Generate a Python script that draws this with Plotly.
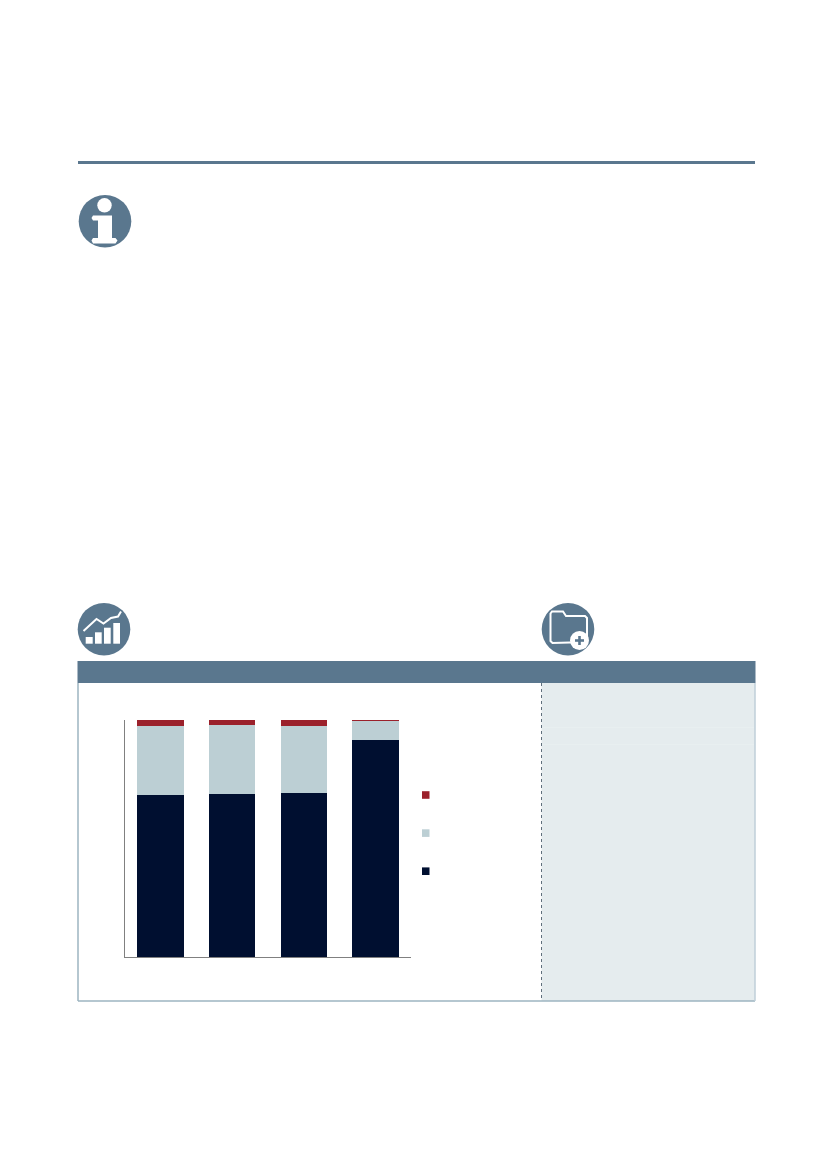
import plotly.graph_objects as go

W, H = 827, 1169

# the reference shows no labels, so these only identify the bars
categories = ["A", "B", "C", "D"]
dark_values = [68.4, 68.9, 69.4, 91.7]
light_values = [28.9, 29.0, 28.2, 7.9]
red_values = [2.7, 2.1, 2.4, 0.4]

STEEL = "#5A778E"
FRAME = "#9DB4C0"
PANEL = "#E5ECEE"
NAVY = "#000F30"
LIGHT = "#BCCFD4"
RED = "#9B212B"


def px_x(x):
    return x / W


def px_y(y):
    return 1 - y / H


def rect(x0, y0, x1, y1, color):
    return dict(type="rect", xref="paper", yref="paper", layer="below",
                x0=px_x(x0), x1=px_x(x1), y0=px_y(y0), y1=px_y(y1),
                fillcolor=color, line_width=0)


def line(x0, y0, x1, y1, color, width=1, dash="solid"):
    return dict(type="line", xref="paper", yref="paper", layer="below",
                x0=px_x(x0), x1=px_x(x1), y0=px_y(y0), y1=px_y(y1),
                line=dict(color=color, width=width, dash=dash))


def circle(cx, cy, r, color):
    return dict(type="circle", xref="paper", yref="paper", layer="below",
                x0=px_x(cx - r), x1=px_x(cx + r), y0=px_y(cy - r), y1=px_y(cy + r),
                fillcolor=color, line_width=0)


def poly(points, fill=None, stroke=None, width=0, closed=True):
    d = "M" + " L".join(f"{px_x(x):.5f},{px_y(y):.5f}" for x, y in points)
    if closed:
        d += " Z"
    return dict(type="path", xref="paper", yref="paper", layer="below", path=d,
                fillcolor=fill if fill else "rgba(0,0,0,0)",
                line=dict(color=stroke if stroke else "rgba(0,0,0,0)", width=width))


shapes = [
    # top rule
    rect(78, 161, 755, 164, STEEL),
    # panel frame and right column
    rect(541.5, 683, 755, 1001, PANEL),
    line(78, 683, 78, 1001, FRAME, 1.5),
    line(78, 1001, 755, 1001, FRAME, 1.5),
    line(755, 683, 755, 1001, "#BFCFD8", 1.5),
    line(541.5, 683, 541.5, 1001, "#5F6F7C", 1, "dot"),
    line(542, 727.5, 754, 727.5, "#EAF0F1", 0.7),
    line(542, 744.5, 754, 744.5, "#EAF0F1", 0.7),
    rect(77.5, 661, 755.5, 683, STEEL),
    # legend swatches
    rect(422, 791.2, 429.5, 798.8, RED),
    rect(422, 829.3, 429.5, 836.9, LIGHT),
    rect(422, 867.4, 429.5, 875, NAVY),
]

# info icon
shapes += [
    circle(105, 221.2, 26.3, STEEL),
    circle(104.5, 205.3, 7.2, "white"),
    poly([(93, 215.5), (112, 215.5), (112, 238), (115.5, 238), (117.5, 240.5), (115.5, 243.5),
          (93, 243.5), (91.5, 240.5), (93, 238), (98, 238), (98, 220.5), (93, 220.5), (91.5, 218)],
         fill="white"),
]

# chart icon
shapes += [
    circle(104, 629.2, 26.3, STEEL),
    rect(85.7, 637, 92.7, 643.7, "white"),
    rect(95, 632.3, 101.7, 643.7, "white"),
    rect(104, 627.7, 110.7, 643.7, "white"),
    rect(113.3, 623, 120, 643.7, "white"),
    poly([(83.5, 631), (96.5, 619), (103.5, 623.5), (111, 618), (118, 616.5), (121, 611.5)],
         stroke="white", width=2, closed=False),
]

# folder icon
shapes += [
    circle(568, 629.2, 26.3, STEEL),
    poly([(550.5, 613.5), (552, 611.5), (563, 611.5), (566, 616), (585, 616), (587, 618),
          (587, 642), (552.5, 643), (550.5, 641)],
         stroke="white", width=2),
    circle(579.5, 640.5, 9.5, "white"),
    rect(578.2, 636, 580.8, 645, STEEL),
    rect(575, 639.2, 584, 641.8, STEEL),
]

fig = go.Figure()
for vals, color, name in [(dark_values, NAVY, "dark"),
                          (light_values, LIGHT, "light"),
                          (red_values, RED, "red")]:
    fig.add_trace(go.Bar(x=categories, y=vals, name=name, marker_color=color,
                         marker_line_width=0, hoverinfo="skip"))

fig.update_layout(
    width=W, height=H,
    margin=dict(l=0, r=0, t=0, b=0),
    paper_bgcolor="white", plot_bgcolor="rgba(0,0,0,0)",
    barmode="stack", bargap=0.356,
    showlegend=False,
    shapes=shapes,
    xaxis=dict(domain=[px_x(124.7), px_x(411.3)], showticklabels=False, ticks="",
               showgrid=False, zeroline=False, showline=True, linecolor="#808080", linewidth=1),
    yaxis=dict(domain=[px_y(957.3), px_y(720)], range=[0, 100], showticklabels=False, ticks="",
               showgrid=False, zeroline=False, showline=True, linecolor="#808080", linewidth=1),
)

fig.write_html("out.html", post_script="document.body.style.margin='0';",
               config=dict(displayModeBar=False))
